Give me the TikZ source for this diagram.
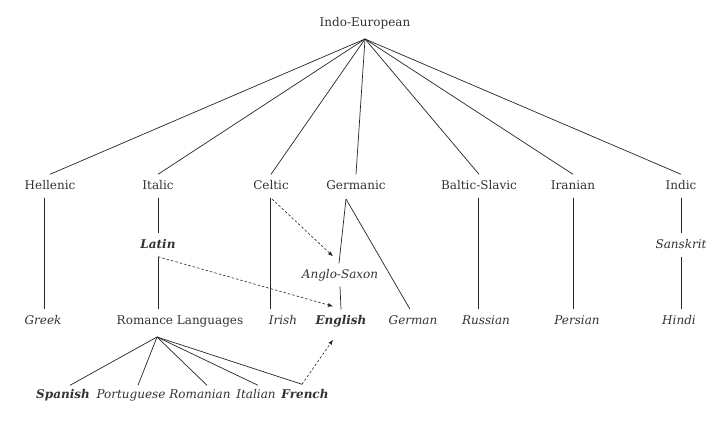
\documentclass[tikz,border=0pt]{standalone}
\usepackage{fontspec}
\setmainfont{DejaVu Serif}
\usetikzlibrary{arrows.meta,calc}
\begin{document}
\begin{tikzpicture}[x=1pt,y=-1pt,
  lbl/.style={font=\fontsize{12}{14}\selectfont, text=black!80, inner xsep=0pt, inner ysep=6pt, text height=8.5pt, text depth=2.5pt},
  it/.style={lbl, font=\fontsize{12}{14}\selectfont\itshape},
  bi/.style={lbl, font=\fontsize{12}{14}\selectfont\bfseries\itshape},
  ln/.style={draw=black!85, line width=0.7pt},
  dsh/.style={draw=black!85, line width=0.6pt, dash pattern=on 2.5pt off 2pt, -{Latex[length=5pt,width=4pt]}}
]
\useasboundingbox (0,0) rectangle (720,423);
\fill[white] (0,0) rectangle (720,423);
% row 1
\node[lbl] (ie) at (365,23) {Indo-European};
\coordinate (apex) at (365,39);
% row 2
\node[lbl] (hellenic) at (50,186) {Hellenic};
\node[lbl] (italic) at (158,186) {Italic};
\node[lbl] (celtic) at (271,186) {Celtic};
\node[lbl] (germanic) at (356,186) {Germanic};
\node[lbl] (balto) at (479,186) {Baltic-Slavic};
\node[lbl] (iranian) at (573,186) {Iranian};
\node[lbl] (indic) at (681,186) {Indic};
% middle row
\node[bi] (latin) at (158,245) {Latin};
\node[it] (anglo) at (340,275) {Anglo-Saxon};
\node[it] (sanskrit) at (681,245) {Sanskrit};
% row 3
\node[it] (greek) at (43,321) {Greek};
\node[lbl] (romance) at (180,321) {Romance Languages};
\node[it] (irish) at (283,321) {Irish};
\node[bi] (english) at (341,321) {English};
\node[it] (german) at (413,321) {German};
\node[it] (russian) at (486,321) {Russian};
\node[it] (persian) at (577,321) {Persian};
\node[it] (hindi) at (679,321) {Hindi};
% row 4
\node[bi] (spanish) at (63,395) {Spanish};
\node[it] (portuguese) at (131,395) {Portuguese};
\node[it] (romanian) at (200,395) {Romanian};
\node[it] (italian) at (256,395) {Italian};
\node[bi] (french) at (305,395) {French};
\coordinate (rapex) at (157,337);
\coordinate (gapex) at (346,199);
% connectors from Indo-European
\foreach \n in {hellenic,italic,celtic,germanic,balto,iranian,indic}
  \draw[ln] (apex) -- (\n.north);
% vertical descents
\draw[ln] (hellenic.south -| 44,0) -- (greek.north -| 44,0);
\draw[ln] (italic.south) -- (latin.north);
\draw[ln] (latin.south) -- (latin.south |- romance.north);
\draw[ln] (celtic.south -| 270,0) -- (irish.north -| 270,0);
\draw[ln] (gapex) -- (anglo.north -| 339,0);
\draw[ln] (gapex) -- ($(german.north)+(-3,0)$);
\draw[ln] (anglo.south) -- (english.north);
\draw[ln] (balto.south -| 478,0) -- (russian.north -| 478,0);
\draw[ln] (iranian.south) -- (iranian.south |- persian.north);
\draw[ln] (indic.south) -- (sanskrit.north);
\draw[ln] (sanskrit.south) -- (sanskrit.south |- hindi.north);
% Romance daughters
\draw[ln] (rapex) -- ($(spanish.north)+(7,2)$);
\draw[ln] (rapex) -- ($(portuguese.north)+(7,2)$);
\draw[ln] (rapex) -- ($(romanian.north)+(7,2)$);
\draw[ln] (rapex) -- ($(italian.north)+(2,2)$);
\draw[ln] (rapex) -- ($(french.north)+(-3,1)$);
% dashed borrowings
\draw[dsh] (272,199) -- ($(anglo.north)+(-7,-7)$);
\draw[dsh] (latin.south) -- ($(english.north)+(-8,-3)$);
\draw[dsh] ($(french.north)+(-3,1)$) -- ($(english.south)+(-8,7)$);
\end{tikzpicture}
\end{document}
